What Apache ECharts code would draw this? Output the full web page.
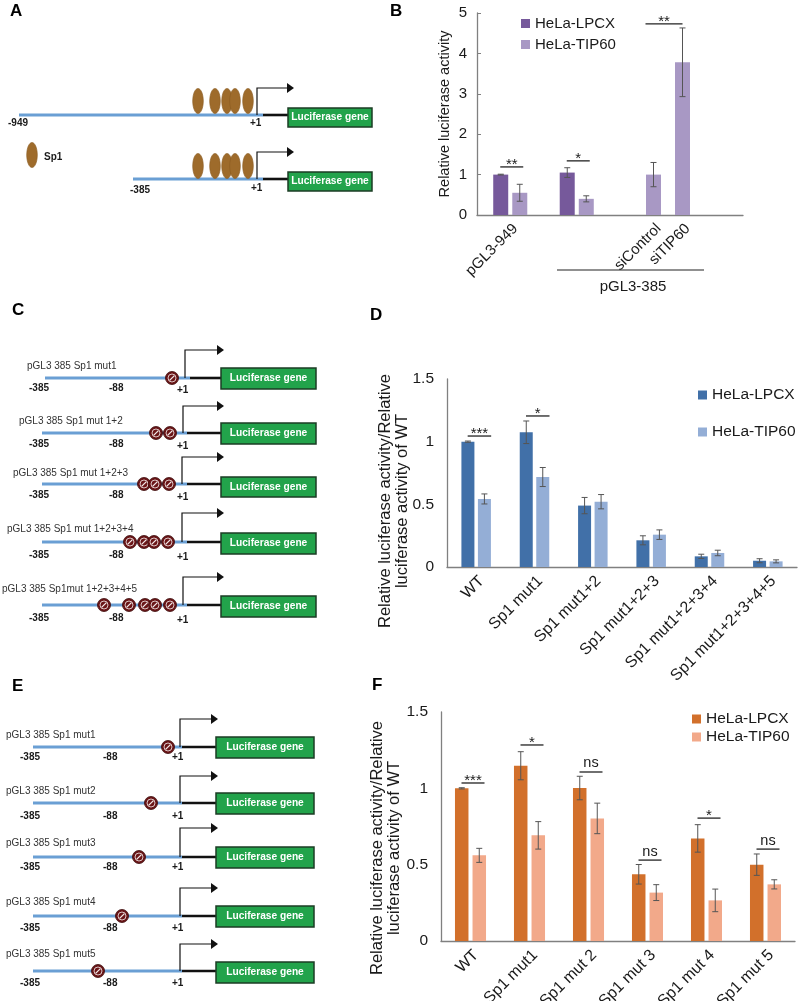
<!DOCTYPE html>
<html><head><meta charset="utf-8">
<script src="https://cdn.jsdelivr.net/npm/echarts/dist/echarts.min.js"></script>
<style>html,body{margin:0;padding:0;background:#fff}#c{width:798px;height:1001px}</style>
</head><body><div id="c"></div>
<script>
// ---------- Panel B data ----------
const bCategories = ['pGL3-949', 'pGL3-385'];
const bLPCX = [1.0, 1.05];
const bLPCXErr = [0.01, 0.12];
const bTIP60 = [0.55, 0.40];
const bTIP60Err = [0.21, 0.075];
const bSiCategories = ['siControl', 'siTIP60'];
const bSiValues = [1.0, 3.78];
const bSiErr = [0.30, 0.85];
const bSig = [[0, 0, 1.19, '**'], [1, 1, 1.34, '*']];
const bSiSig = [[0, 1, 4.73, '**']];
// ---------- Panel D data ----------
const dCategories = ['WT', 'Sp1 mut1', 'Sp1 mut1+2', 'Sp1 mut1+2+3', 'Sp1 mut1+2+3+4', 'Sp1 mut1+2+3+4+5'];
const dLPCX = [1.0, 1.075, 0.49, 0.213, 0.085, 0.05];
const dLPCXErr = [0.005, 0.09, 0.065, 0.036, 0.017, 0.016];
const dTIP60 = [0.543, 0.718, 0.521, 0.258, 0.112, 0.045];
const dTIP60Err = [0.04, 0.076, 0.057, 0.038, 0.022, 0.012];
const dSig = [[0, 0, 1.045, '***'], [1, 1, 1.205, '*']];
// ---------- Panel F data ----------
const fCategories = ['WT', 'Sp1 mut1', 'Sp1 mut 2', 'Sp1 mut 3', 'Sp1 mut 4', 'Sp1 mut 5'];
const fLPCX = [1.0, 1.148, 1.002, 0.437, 0.672, 0.5];
const fLPCXErr = [0.004, 0.092, 0.077, 0.064, 0.09, 0.07];
const fTIP60 = [0.561, 0.692, 0.803, 0.317, 0.266, 0.371];
const fTIP60Err = [0.046, 0.09, 0.10, 0.052, 0.074, 0.03];
const fSig = [[0, 0, 1.035, '***'], [1, 1, 1.284, '*'], [2, 2, 1.107, 'ns'], [3, 3, 0.53, 'ns'], [4, 4, 0.805, '*'], [5, 5, 0.602, 'ns']];

const FONT = 'Liberation Sans, Arial, Helvetica, sans-serif';
const TXT = '#1a1a1a';
const AX = '#808080';

function errSeries(xi, yi, values, errs, offset) {
  return {
    type: 'custom', xAxisIndex: xi, yAxisIndex: yi, z: 5, silent: true,
    data: values.map((v, i) => [i, v, errs[i]]),
    encode: {x: 0, y: 1},
    renderItem: (params, api) => {
      const i = api.value(0), v = api.value(1), e = api.value(2);
      const t = api.coord([i, v + e]), b = api.coord([i, v - e]);
      const x = t[0] + offset;
      const st = {stroke: '#555', lineWidth: 1};
      return {type: 'group', children: [
        {type: 'line', shape: {x1: x, y1: t[1], x2: x, y2: b[1]}, style: st},
        {type: 'line', shape: {x1: x - 3, y1: t[1], x2: x + 3, y2: t[1]}, style: st},
        {type: 'line', shape: {x1: x - 3, y1: b[1], x2: x + 3, y2: b[1]}, style: st}
      ]};
    }
  };
}
function sigSeries(xi, yi, arr, offL, offR) {
  return {
    type: 'custom', xAxisIndex: xi, yAxisIndex: yi, z: 6, silent: true,
    data: arr.map(s => [s[0], s[1], s[2]]),
    encode: {x: 0, y: 2},
    renderItem: (params, api) => {
      const s = arr[params.dataIndex];
      const p0 = api.coord([s[0], s[2]]), p1 = api.coord([s[1], s[2]]);
      const x0 = p0[0] + offL, x1 = p1[0] + offR, y = p0[1];
      const isStar = s[3].indexOf('*') >= 0;
      return {type: 'group', children: [
        {type: 'line', shape: {x1: x0, y1: y, x2: x1, y2: y}, style: {stroke: '#222', lineWidth: 1.3}},
        {type: 'text', x: (x0 + x1) / 2, y: isStar ? y + 5 : y - 1,
         style: {text: s[3], fill: TXT, fontSize: isStar ? 15 : 14.5, fontFamily: FONT, align: 'center', verticalAlign: 'bottom'}}
      ]};
    }
  };
}
function barSeries(name, xi, yi, data, color, w, gap) {
  return {type: 'bar', name: name, xAxisIndex: xi, yAxisIndex: yi, data: data, barWidth: w, barGap: gap,
          itemStyle: {color: color}, silent: true, z: 2};
}
function catAxis(gi, data, fs, showLine, fmt) {
  return {type: 'category', gridIndex: gi, data: data,
    axisLine: {show: showLine, lineStyle: {color: AX, width: 1.3}},
    axisTick: {show: false},
    axisLabel: {interval: 0, rotate: 45, align: 'right', verticalAlign: 'top', fontSize: fs, color: TXT, fontFamily: FONT, margin: 6, formatter: fmt}};
}
function valAxis(gi, max, interval, fs, margin, show, ticks) {
  return {type: 'value', gridIndex: gi, min: 0, max: max, interval: interval, show: show,
    axisLine: {show: true, lineStyle: {color: AX, width: 1.3}},
    axisTick: {show: ticks, inside: true, length: 4, lineStyle: {color: AX}},
    splitLine: {show: false},
    axisLabel: {fontSize: fs, color: TXT, fontFamily: FONT, margin: margin}};
}

// ---------- diagram helpers (illustration, panels A, C, E) ----------
const G = [];
function L(x1, y1, x2, y2, c, w) { G.push({type: 'line', silent: true, shape: {x1, y1, x2, y2}, style: {stroke: c, lineWidth: w}}); }
function T(x, y, s, o) {
  o = o || {};
  G.push({type: 'text', silent: true, x: x, y: y, rotation: o.rot || 0,
    style: {text: s, fill: o.fill || TXT, fontSize: o.fs || 10, fontWeight: o.fw || 'normal', fontFamily: FONT,
            align: o.align || 'left', verticalAlign: 'middle', lineHeight: o.lh}});
}
function construct(c) {
  L(c.bx0, c.y, c.bx1, c.y, '#6a9fd4', 3);
  L(c.bx1, c.y, c.box0, c.y, '#111', 2.6);
  G.push({type: 'polyline', silent: true, shape: {points: [[c.vx, c.y], [c.vx, c.ay], [c.tip - 6, c.ay]]}, style: {stroke: '#111', lineWidth: 1.2, fill: null}});
  G.push({type: 'polygon', silent: true, shape: {points: [[c.tip - 7, c.ay - 5], [c.tip, c.ay], [c.tip - 7, c.ay + 5]]}, style: {fill: '#111'}});
  G.push({type: 'rect', silent: true, shape: {x: c.box0, y: c.bt, width: c.box1 - c.box0, height: c.bb - c.bt}, style: {fill: '#22a34b', stroke: '#1b3d25', lineWidth: 1.5}});
  T((c.box0 + c.box1) / 2, (c.bt + c.bb) / 2, 'Luciferase gene', {fill: '#fff', fw: 'bold', fs: 10.2, align: 'center'});
}
function oval(cx, cy) { G.push({type: 'ellipse', silent: true, shape: {cx, cy, rx: 5.3, ry: 12.5}, style: {fill: '#9e6b2b', stroke: '#8a5a20', lineWidth: 0.6}}); }
function mut(cx, cy) {
  G.push({type: 'circle', silent: true, shape: {cx, cy, r: 6.5}, style: {fill: '#6b1618', stroke: '#3a0808', lineWidth: 0.8}});
  G.push({type: 'circle', silent: true, shape: {cx, cy, r: 4}, style: {fill: null, stroke: '#e8d8d8', lineWidth: 0.9}});
  L(cx - 2.4, cy + 2.4, cx + 2.4, cy - 2.4, '#f4eaea', 1.3);
}

// Panel letters
[['A', 10, 11], ['B', 390, 11], ['C', 12, 310], ['D', 370, 315], ['E', 12, 686], ['F', 372, 685]].forEach(l => T(l[1], l[2], l[0], {fs: 17, fw: 'bold', fill: '#000'}));

// Panel A
construct({bx0: 19, bx1: 263, y: 115, box0: 288, box1: 372, bt: 108, bb: 127, vx: 257, ay: 88, tip: 294});
construct({bx0: 133, bx1: 263, y: 179, box0: 288, box1: 372, bt: 172, bb: 191, vx: 257, ay: 152, tip: 294});
[198, 215, 227, 235, 248].forEach(x => { oval(x, 101); oval(x, 166); });
oval(32, 155);
T(44, 157, 'Sp1', {fw: 'bold', fs: 10});
T(8, 123, '-949', {fw: 'bold', fs: 10});
T(250, 123, '+1', {fw: 'bold', fs: 10});
T(130, 190, '-385', {fw: 'bold', fs: 10});
T(251, 188, '+1', {fw: 'bold', fs: 10});

// Panel C
const cRows = [
  {name: 'pGL3 385 Sp1 mut1', lx: 27, ly: 366, y: 378, bx0: 45, bx1: 190, vx: 185, ay: 350, bt: 368, bb: 389, py: 388, m: [172]},
  {name: 'pGL3 385 Sp1 mut 1+2', lx: 19, ly: 421, y: 433, bx0: 42, bx1: 187, vx: 183, ay: 406, bt: 423, bb: 444, py: 444, m: [156, 170]},
  {name: 'pGL3 385 Sp1 mut 1+2+3', lx: 13, ly: 473, y: 484, bx0: 42, bx1: 187, vx: 182, ay: 457, bt: 477, bb: 497, py: 495, m: [144, 155, 169]},
  {name: 'pGL3 385 Sp1 mut 1+2+3+4', lx: 7, ly: 529, y: 542, bx0: 42, bx1: 187, vx: 182, ay: 513, bt: 533, bb: 554, py: 555, m: [130, 144, 154, 168]},
  {name: 'pGL3 385 Sp1mut 1+2+3+4+5', lx: 2, ly: 589, y: 605, bx0: 42, bx1: 187, vx: 183, ay: 577, bt: 596, bb: 617, py: 618, m: [104, 129, 145, 155, 170]}
];
cRows.forEach(r => {
  construct({bx0: r.bx0, bx1: r.bx1, y: r.y, box0: 221, box1: 316, bt: r.bt, bb: r.bb, vx: r.vx, ay: r.ay, tip: 224});
  r.m.forEach(x => mut(x, r.y));
  T(r.lx, r.ly, r.name, {fs: 10, fill: '#333'});
  T(29, r.py, '-385', {fw: 'bold', fs: 10});
  T(109, r.py, '-88', {fw: 'bold', fs: 10});
  T(177, r.py + 2, '+1', {fw: 'bold', fs: 10});
});

// Panel E
const eRows = [
  {name: 'pGL3 385 Sp1 mut1', ly: 735, y: 747, ay: 719, bt: 737, bb: 758, py: 757, m: 168},
  {name: 'pGL3 385 Sp1 mut2', ly: 791, y: 803, ay: 776, bt: 793, bb: 814, py: 816, m: 151},
  {name: 'pGL3 385 Sp1 mut3', ly: 843, y: 857, ay: 828, bt: 847, bb: 868, py: 867, m: 139},
  {name: 'pGL3 385 Sp1 mut4', ly: 902, y: 916, ay: 888, bt: 906, bb: 927, py: 928, m: 122},
  {name: 'pGL3 385 Sp1 mut5', ly: 954, y: 971, ay: 944, bt: 962, bb: 983, py: 983, m: 98}
];
eRows.forEach(r => {
  construct({bx0: 33, bx1: 182, y: r.y, box0: 216, box1: 314, bt: r.bt, bb: r.bb, vx: 180, ay: r.ay, tip: 218});
  mut(r.m, r.y);
  T(6, r.ly, r.name, {fs: 10, fill: '#333'});
  T(20, r.py, '-385', {fw: 'bold', fs: 10});
  T(103, r.py, '-88', {fw: 'bold', fs: 10});
  T(172, r.py, '+1', {fw: 'bold', fs: 10});
});

// Axis names and group label for panel B
T(445, 114, 'Relative luciferase activity', {fs: 14.5, align: 'center', rot: Math.PI / 2});
T(394, 501, 'Relative luciferase activity/Relative\nluciferase activity of WT', {fs: 16.5, align: 'center', rot: Math.PI / 2, lh: 17});
T(386, 848, 'Relative luciferase activity/Relative\nluciferase activity of WT', {fs: 16.5, align: 'center', rot: Math.PI / 2, lh: 17});
L(557, 270, 704, 270, '#222', 1.2);
T(633, 287, 'pGL3-385', {fs: 15, align: 'center'});

const fmtStrip = n => n.split('#')[0];
const gridBase = {containLabel: false, outerBoundsMode: 'none'};
const option = {
  animation: false,
  backgroundColor: '#fff',
  grid: [
    Object.assign({left: 477, top: 13, width: 266, height: 202}, gridBase),
    Object.assign({left: 639, top: 13, width: 58, height: 202}, gridBase),
    Object.assign({left: 447, top: 379, width: 350, height: 188}, gridBase),
    Object.assign({left: 441, top: 712, width: 354, height: 229}, gridBase)
  ],
  xAxis: [
    catAxis(0, bCategories.concat(['', '']), 15, true, (v, i) => i === 0 ? v : ''),
    catAxis(1, bSiCategories, 15, false),
    catAxis(2, dCategories, 16, true),
    catAxis(3, fCategories, 16, true)
  ],
  yAxis: [
    valAxis(0, 5, 1, 15, 10, true, true),
    valAxis(1, 5, 1, 15, 10, false, false),
    valAxis(2, 1.5, 0.5, 15.5, 13, true, false),
    valAxis(3, 1.5, 0.5, 15.5, 13, true, false)
  ],
  legend: [
    {data: ['HeLa-LPCX#B', 'HeLa-TIP60#B'], orient: 'vertical', left: 516, top: 11, icon: 'rect', itemWidth: 9, itemHeight: 9, itemGap: 6,
     formatter: fmtStrip, selectedMode: false, textStyle: {fontSize: 15, color: TXT, fontFamily: FONT}},
    {data: ['HeLa-LPCX#D', 'HeLa-TIP60#D'], orient: 'vertical', left: 693, top: 382, icon: 'rect', itemWidth: 9, itemHeight: 9, itemGap: 21,
     formatter: fmtStrip, selectedMode: false, textStyle: {fontSize: 15.5, color: TXT, fontFamily: FONT}},
    {data: ['HeLa-LPCX#F', 'HeLa-TIP60#F'], orient: 'vertical', left: 687, top: 706, icon: 'rect', itemWidth: 9, itemHeight: 9, itemGap: 2,
     formatter: fmtStrip, selectedMode: false, textStyle: {fontSize: 15.5, color: TXT, fontFamily: FONT}}
  ],
  series: [
    barSeries('HeLa-LPCX#B', 0, 0, bLPCX, '#76599b', 15, '27%'),
    barSeries('HeLa-TIP60#B', 0, 0, bTIP60, '#a898c4', 15, '27%'),
    errSeries(0, 0, bLPCX, bLPCXErr, -9.5),
    errSeries(0, 0, bTIP60, bTIP60Err, 9.5),
    sigSeries(0, 0, bSig, -10, 13),
    barSeries('HeLa-TIP60#B2', 1, 1, bSiValues, '#a898c4', 15, '27%'),
    errSeries(1, 1, bSiValues, bSiErr, 0),
    sigSeries(1, 1, bSiSig, -8, 0),

    barSeries('HeLa-LPCX#D', 2, 2, dLPCX, '#4170a8', 13, '27%'),
    barSeries('HeLa-TIP60#D', 2, 2, dTIP60, '#94aed6', 13, '27%'),
    errSeries(2, 2, dLPCX, dLPCXErr, -8.25),
    errSeries(2, 2, dTIP60, dTIP60Err, 8.25),
    sigSeries(2, 2, dSig, -8.5, 15),

    barSeries('HeLa-LPCX#F', 3, 3, fLPCX, '#d2702b', 13.5, '30%'),
    barSeries('HeLa-TIP60#F', 3, 3, fTIP60, '#f2a98a', 13.5, '30%'),
    errSeries(3, 3, fLPCX, fLPCXErr, -8.75),
    errSeries(3, 3, fTIP60, fTIP60Err, 8.75),
    sigSeries(3, 3, fSig, -9, 14)
  ],
  graphic: G
};
const chart = echarts.init(document.getElementById('c'));
chart.setOption(option);
</script></body></html>
